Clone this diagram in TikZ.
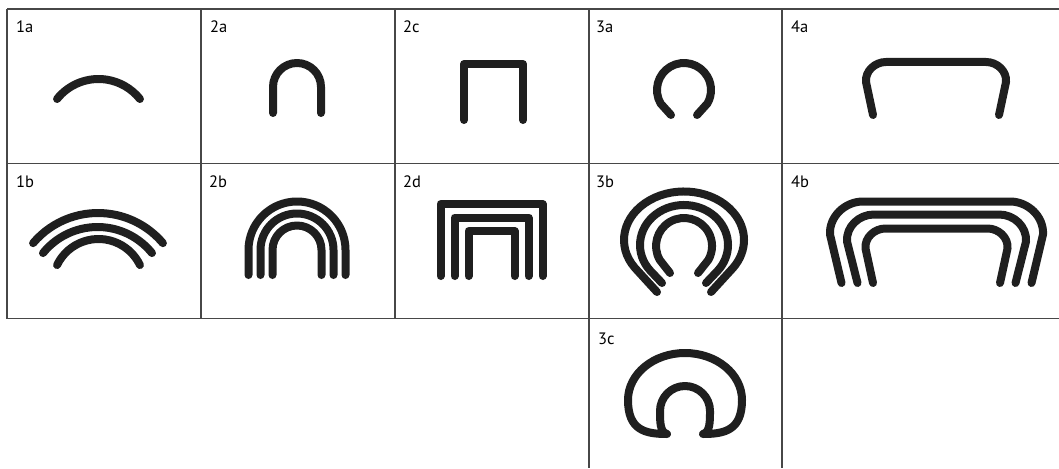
\documentclass[tikz,border=0pt]{standalone}
\usepackage{fontspec}
\newfontfamily\labfont{PT Sans}
\begin{document}
\begin{tikzpicture}[x=1pt,y=-1pt,
  grid/.style={line width=1.2pt, draw=black!72},
  glyph/.style={line width=8pt, line cap=round, line join=round, draw=black!88},
  lab/.style={anchor=base west, inner sep=0pt, font=\labfont\fontsize{16.5}{18}\selectfont}]
\useasboundingbox (0,0) rectangle (1059,468);
% grid
\draw[grid] (7,9) -- (1059,9);
\draw[grid] (7,163.5) -- (1059,163.5);
\draw[grid] (7,318.5) -- (1059,318.5);
\draw[grid] (7,9) -- (7,318.5);
\draw[grid] (201,9) -- (201,318.5);
\draw[grid] (395,9) -- (395,318.5);
\draw[grid] (589,9) -- (589,468);
\draw[grid] (782,9) -- (782,468);
% labels
\node[lab] (l1a) at (16,33) {1a};
\node[lab] (l2a) at (210,33) {2a};
\node[lab] (l2c) at (403,33) {2c};
\node[lab] (l3a) at (596,33) {3a};
\node[lab] (l4a) at (791,33) {4a};
\node[lab] (l1b) at (16,187) {1b};
\node[lab] (l2b) at (209,187) {2b};
\node[lab] (l2d) at (403,187) {2d};
\node[lab] (l3b) at (596,187) {3b};
\node[lab] (l4b) at (791,187) {4b};
\node[lab] (l3c) at (598,344) {3c};
% 1a
\draw[glyph] (98.5,132) ++(218.5:53) arc[start angle=218.5, end angle=321.5, radius=53];
% 1b
\draw[glyph] (98.5,285) ++(205.7:46) arc[start angle=205.7, end angle=334.3, radius=46];
\draw[glyph] (97.5,297) ++(218.9:70) arc[start angle=218.9, end angle=321.1, radius=70];
\draw[glyph] (98,298) ++(220.2:85) arc[start angle=220.2, end angle=319.8, radius=85];
% 2a
\draw[glyph] (273,113) -- (273,87) arc[start angle=180, end angle=360, radius=24] -- (321,113);
% 2b
\draw[glyph] (272.5,275) -- (272.5,250) arc[start angle=180, end angle=360, radius=24.5] -- (321.5,275);
\draw[glyph] (260.5,275) -- (260.5,250) arc[start angle=180, end angle=360, radius=36.5] -- (333.5,275);
\draw[glyph] (248.5,275) -- (248.5,250) arc[start angle=180, end angle=360, radius=48.5] -- (345.5,275);
% 2c
\draw[glyph] (464,120) -- (464,64) -- (523,64) -- (523,120);
% 2d
\draw[glyph] (440.5,276) -- (440.5,204) -- (542.5,204) -- (542.5,276);
\draw[glyph] (454.5,276) -- (454.5,217.5) -- (528.5,217.5) -- (528.5,276);
\draw[glyph] (468.5,276) -- (468.5,231) -- (514.5,231) -- (514.5,276);
% 3a
\draw[glyph] (671,115) -- (660.6,103.5) arc[start angle=150, end angle=390, radius=27] -- (697,115);
% 3b
\draw[glyph] (670,273) -- (659.8,260) arc[start angle=150, end angle=390, radius=28] -- (698,273);
\draw[glyph] (662,283) -- (650.3,270.7) arc[start angle=140, end angle=400, x radius=44, y radius=40] -- (706,283);
\draw[glyph] (657,292) -- (634.85,267.8) arc[start angle=145, end angle=395, x radius=60, y radius=48.5] -- (711,292);
% 3c
\draw[glyph] (703,434) .. controls (710,432) and (710,422) .. (710,411)
  arc[start angle=0, end angle=-180, radius=25]
  .. controls (660,422) and (660,432) .. (667,434)
  .. controls (645,434) and (628,430) .. (628,400)
  .. controls (628,374) and (653.5,353) .. (685,353)
  .. controls (716.5,353) and (742,374) .. (742,400)
  .. controls (742,430) and (725,434) .. (703,434) -- cycle;
% 4a
\draw[glyph] (873,115) -- (866,82) .. controls (865,71) and (875,62) .. (886,62) -- (986,62)
  .. controls (997,62) and (1007,71) .. (1006,82) -- (999,115);
% 4b
\draw[glyph] (873,283) -- (865.5,248.5) .. controls (864.5,237.5) and (874.5,228.5) .. (885.5,228.5) -- (987.5,228.5)
  .. controls (998.5,228.5) and (1008.5,237.5) .. (1007.5,248.5) -- (1000,283);
\draw[glyph] (857.5,283) -- (847,241.5) .. controls (846,226.5) and (859,214.5) .. (874,214.5) -- (999,214.5)
  .. controls (1014,214.5) and (1027,226.5) .. (1026,241.5) -- (1015.5,283);
\draw[glyph] (841.5,283) -- (830,234.5) .. controls (829,216.5) and (845,201.5) .. (863,201.5) -- (1010,201.5)
  .. controls (1028,201.5) and (1044,216.5) .. (1043,234.5) -- (1031.5,283);
\end{tikzpicture}
\end{document}
